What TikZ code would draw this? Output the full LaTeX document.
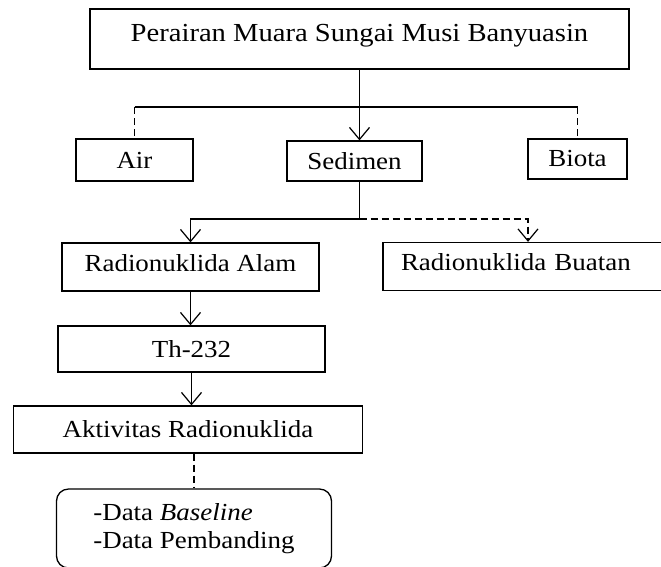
\documentclass[tikz,border=0pt]{standalone}
\usepackage{fontspec}
\setmainfont{Liberation Serif}[FakeStretch=1.1]
\usetikzlibrary{positioning, arrows.meta}

\begin{document}
\begin{tikzpicture}[x=1pt, y=-1pt,
    boxnode/.style={draw, line width=1.3pt, inner sep=0pt, font=\fontsize{24.5}{28}\selectfont},
    arrowline/.style={line width=1.2pt, -{Straight Barb[length=12pt, width=20pt, line width=1.2pt]}},
    dashline/.style={line width=1.2pt, dash pattern=on 7pt off 4pt}]
  \useasboundingbox (0,0) rectangle (661,566);
  \clip (0,0) rectangle (661,566);

  % Location
  \node[boxnode, minimum width=539pt, minimum height=60pt, text height=18pt, text depth=13pt,
        font=\fontsize{26}{30}\selectfont] (muara) at (359.5,39) {Perairan Muara Sungai Musi Banyuasin};

  % Samples
  \node[boxnode, minimum width=117pt, minimum height=42pt] (air) at (134.5,160) {Air};
  \node[boxnode, minimum width=135pt, minimum height=40pt] (sedimen) at (354.5,161) {Sedimen};
  \node[boxnode, minimum width=99pt, minimum height=40pt] (biota) at (577.5,159) {Biota};

  % Radionuclide types
  \node[boxnode, minimum width=257pt, minimum height=48pt, text depth=9pt] (alam) at (190.5,267) {Radionuklida Alam};
  \node[boxnode, minimum width=290pt, minimum height=48pt, text width=254pt, inner xsep=18pt,
        align=left, text depth=9pt] (buatan) at (528,266.5) {Radionuklida Buatan};

  % Analysis chain
  \node[boxnode, minimum width=267pt, minimum height=46pt] (thorium) at (191.5,349) {Th-232};
  \node[boxnode, minimum width=349.5pt, minimum height=47pt] (aktivitas) at (188,429.5) {Aktivitas Radionuklida};
  \node[boxnode, rounded corners=12pt, minimum width=275pt, minimum height=79pt, align=left]
        (data) at (194,528.5) {-Data \textit{Baseline}\\-Data Pembanding};

  % Branch below the location box
  \coordinate (split) at (359.5,107);
  \draw[line width=1.2pt] (air.north |- split) -- (biota.north |- split);
  \draw[dashline] (air.north |- split) -- (air.north);
  \draw[dashline] (biota.north |- split) -- (biota.north);
  \draw[arrowline] (muara.south) -- (muara.south |- sedimen.north);

  % Branch below the sediment box
  \coordinate (turn) at (359.5,219);
  \draw[arrowline] (sedimen.south -| turn) -- (turn) -| (alam.north);
  \draw[arrowline, dashline] (turn) -| (buatan.north);

  % Chain
  \draw[arrowline] (alam.south) -- (alam.south |- thorium.north);
  \draw[arrowline] (thorium.south) -- (thorium.south |- aktivitas.north);
  \draw[dashline] (data.north |- aktivitas.south) -- (data.north);
\end{tikzpicture}
\end{document}
